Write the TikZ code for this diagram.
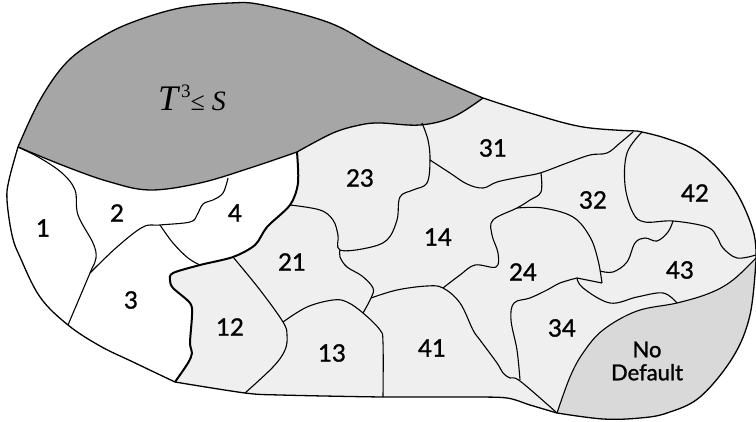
\documentclass[tikz,border=0pt]{standalone}
\usepackage{fontspec}
\setmainfont{Lato}
\newfontfamily\labf{Lato}[FakeBold=1.2]
\newfontfamily\serif{Liberation Serif}
\definecolor{lightg}{HTML}{EFEFEF}
\definecolor{darkg}{HTML}{A6A6A6}
\definecolor{nodef}{HTML}{D9D9D9}
\begin{document}
\begin{tikzpicture}[x=1pt,y=-1pt,
  bord/.style={line width=1.3pt,line join=round},
  inner/.style={line width=1.1pt,line join=round},
  thick/.style={line width=2pt,line join=round},
  lab/.style={font=\labf\fontsize{24}{24}\selectfont,inner sep=0pt}]
\useasboundingbox (0,0) rectangle (756,422);
% whole body
\fill[lightg] plot[smooth,tension=0.6] coordinates {(18,147) (9,180) (7,200) (12,235) (20,257) (40,297) (68,325) (100,346) (133,362) (175,382)}
 -- plot[smooth,tension=0.5] coordinates {(175,382) (245,393) (280,395) (383,397) (470,397) (507,398) (530,405) (557,413)}
 -- plot[smooth,tension=0.6] coordinates {(557,413) (603,419) (640,418) (667,413) (700,397) (733,357) (750,315) (756,260)}
 -- plot[smooth,tension=0.6] coordinates {(756,260) (753,230) (733,187) (700,153) (665,138) (637,131)}
 -- plot[smooth,tension=0.6] coordinates {(637,131) (583,127) (530,113) (483,98)}
 -- plot[smooth,tension=0.6] coordinates {(483,98) (430,75) (380,50) (330,23) (263,5) (230,3) (180,8) (133,22) (100,38) (67,62) (40,100) (18,147)} -- cycle;
% dark region
\fill[darkg] plot[smooth,tension=0.6] coordinates {(18,147) (67,167) (110,182) (150,190) (200,183) (250,168) (297,152)}
 -- plot[smooth,tension=0.6] coordinates {(297,152) (333,133) (360,125) (380,123) (420,125) (453,117) (483,98)}
 -- plot[smooth,tension=0.6] coordinates {(483,98) (430,75) (380,50) (330,23) (263,5) (230,3) (180,8) (133,22) (100,38) (67,62) (40,100) (18,147)} -- cycle;
% white region
\fill[white] plot[smooth,tension=0.6] coordinates {(18,147) (67,167) (110,182) (150,190) (200,183) (250,168) (297,152)}
 -- plot[smooth,tension=0.5] coordinates {(297,152) (298,183) (290,205) (267,227) (255,245) (233,257) (200,265) (173,273) (170,280) (173,288) (190,303) (192,315) (190,343) (192,353) (188,363) (175,382)}
 -- plot[smooth,tension=0.6] coordinates {(175,382) (133,362) (100,346) (68,325) (40,297) (20,257) (12,235) (7,200) (9,180) (18,147)} -- cycle;
% no default region
\fill[nodef] plot[smooth,tension=0.6] coordinates {(557,413) (603,419) (640,418) (667,413) (700,397) (733,357) (750,315) (756,260)}
 -- plot[smooth,tension=0.6] coordinates {(756,258) (733,280) (710,293) (677,303) (637,311) (603,330) (583,353) (570,377) (557,413)} -- cycle;
% interior boundaries
\draw[inner] plot[smooth,tension=0.6] coordinates {(18,147) (40,158) (62,173) (75,190) (78,215) (93,243) (96,258) (90,273) (68,325)};
\draw[inner] plot[smooth,tension=0.6] coordinates {(90,273) (117,247) (143,227) (160,225) (190,222) (197,215) (203,204) (213,200) (223,193) (228,178)};
\draw[inner] plot[smooth,tension=0.6] coordinates {(160,225) (173,243) (188,258) (200,265)};
\draw[inner] plot[smooth,tension=0.6] coordinates {(290,205) (320,210) (333,220) (338,235) (340,250) (367,248) (387,240) (397,220) (400,197) (413,190) (427,183) (430,160) (428,140) (422,123)};
\draw[inner] plot[smooth,tension=0.6] coordinates {(430,160) (450,173) (467,184) (483,188) (497,182) (520,177) (540,173) (567,163) (590,155) (607,153) (620,143) (633,132)};
\draw[inner] plot[smooth,tension=0.6] coordinates {(541,173) (541,192) (530,200) (517,208) (493,220) (492,235) (498,253) (496,267) (475,265) (460,275) (443,288)};
\draw[inner] plot[smooth,tension=0.6] coordinates {(517,208) (543,208) (573,217) (590,237) (598,260) (602,283)};
\draw[inner] (602,283) -- (577,278);
\draw[inner] plot[smooth,tension=0.6] coordinates {(577,278) (560,283) (547,290) (530,298) (514,303) (511,320) (517,350) (520,380)};
\draw[inner] plot[smooth,tension=0.6] coordinates {(577,278) (583,288) (610,303) (637,297) (663,293) (677,303)};
\draw[inner] plot[smooth,tension=0.6] coordinates {(600,271) (613,272) (627,262) (635,243) (645,238) (657,241) (668,232) (673,221)};
\draw[inner] plot[smooth,tension=0.6] coordinates {(642,132) (627,153) (625,185) (633,213) (645,222) (673,221) (707,227) (717,237) (723,248) (737,258) (756,255)};
\draw[inner] plot[smooth,tension=0.6] coordinates {(233,257) (260,290) (283,322) (287,335) (285,350) (273,367) (245,393)};
\draw[inner] plot[smooth,tension=0.6] coordinates {(283,322) (307,307) (333,300) (347,302) (363,313) (380,330) (383,343) (383,397)};
\draw[inner] plot[smooth,tension=0.6] coordinates {(340,250) (340,257) (347,267) (362,276) (373,288) (371,298) (363,313)};
\draw[inner] plot[smooth,tension=0.6] coordinates {(371,298) (397,290) (427,286) (443,288) (460,303) (473,330) (480,340) (497,363) (503,373) (510,378) (520,381) (557,413)};
\draw[inner] plot[smooth,tension=0.6] coordinates {(756,258) (733,280) (710,293) (677,303) (637,311) (603,330) (583,353) (570,377) (557,413)};
% dark boundary
\draw[bord] plot[smooth,tension=0.6] coordinates {(18,147) (67,167) (110,182) (150,190) (200,183) (250,168) (297,152)}
 -- plot[smooth,tension=0.6] coordinates {(297,152) (333,133) (360,125) (380,123) (420,125) (453,117) (483,98)};
% thick white boundary
\draw[thick] plot[smooth,tension=0.5] coordinates {(297,152) (298,183) (290,205) (267,227) (255,245) (233,257) (200,265) (173,273) (170,280) (173,288) (190,303) (192,315) (190,343) (192,353) (188,363) (175,382)};
% outline
\draw[bord] plot[smooth,tension=0.6] coordinates {(18,147) (9,180) (7,200) (12,235) (20,257) (40,297) (68,325) (100,346) (133,362) (175,382)}
 -- plot[smooth,tension=0.5] coordinates {(175,382) (245,393) (280,395) (383,397) (470,397) (507,398) (530,405) (557,413)}
 -- plot[smooth,tension=0.6] coordinates {(557,413) (603,419) (640,418) (667,413) (700,397) (733,357) (750,315) (756,260)}
 -- plot[smooth,tension=0.6] coordinates {(756,260) (753,230) (733,187) (700,153) (665,138) (637,131)}
 -- plot[smooth,tension=0.6] coordinates {(637,131) (583,127) (530,113) (483,98)}
 -- plot[smooth,tension=0.6] coordinates {(483,98) (430,75) (380,50) (330,23) (263,5) (230,3) (180,8) (133,22) (100,38) (67,62) (40,100) (18,147)} -- cycle;
% labels
\node[inner sep=0pt,anchor=base west] (tlab) at (158,111) {{\serif\itshape\fontsize{36}{36}\selectfont T}\kern3pt\raisebox{13pt}{\serif\fontsize{19}{19}\selectfont 3}\kern0pt{\serif\fontsize{26}{26}\selectfont ≤}\kern7pt{\serif\itshape\fontsize{28}{28}\selectfont S}};
\node[lab] (l1) at (43,228) {1};
\node[lab] (l2) at (117,213) {2};
\node[lab] (l3) at (131,300) {3};
\node[lab] (l4) at (235,213) {4};
\node[lab] (l23) at (360,178) {23};
\node[lab] (l31) at (493,148) {31};
\node[lab] (l32) at (593,200) {32};
\node[lab] (l42) at (695,193) {42};
\node[lab] (l14) at (438,237) {14};
\node[lab] (l21) at (292,262) {21};
\node[lab] (l24) at (523,272) {24};
\node[lab] (l43) at (680,270) {43};
\node[lab] (l12) at (230,327) {12};
\node[lab] (l13) at (332,353) {13};
\node[lab] (l41) at (432,348) {41};
\node[lab] (l34) at (562,328) {34};
\node[lab,font=\labf\fontsize{22}{22}\selectfont,align=center] (lnd) at (647,361) {No\\[1pt]Default};
\end{tikzpicture}
\end{document}
